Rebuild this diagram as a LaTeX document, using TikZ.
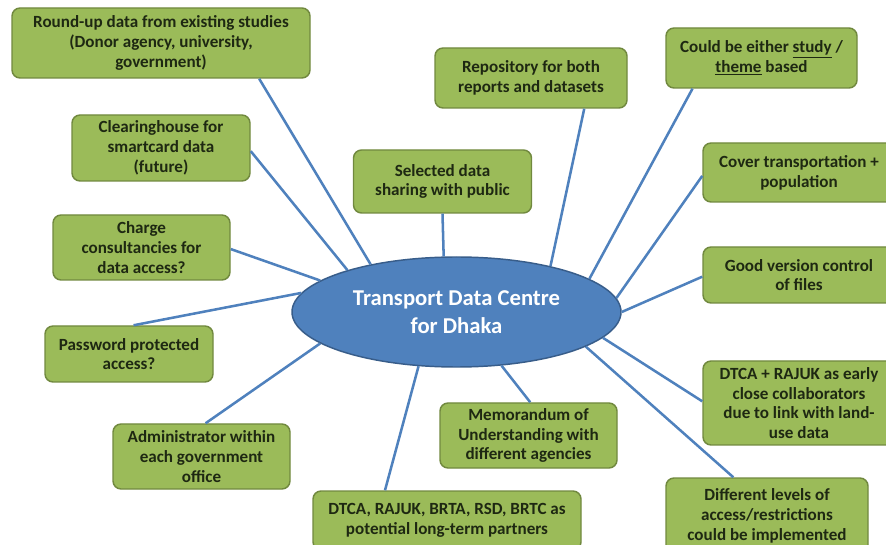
\documentclass[tikz,border=0pt]{standalone}
\usepackage{fontspec}
\setmainfont{Carlito}
\usetikzlibrary{shapes.geometric}
\definecolor{boxfill}{HTML}{9BBB59}
\definecolor{boxdraw}{HTML}{71893F}
\definecolor{elfill}{HTML}{4F81BD}
\definecolor{eldraw}{HTML}{385D8A}
\definecolor{linecol}{HTML}{4F81BD}
\definecolor{txt}{HTML}{1E2812}
\begin{document}
\begin{tikzpicture}[x=0.75pt,y=-0.75pt,
  box/.style={draw=boxdraw, line width=1.1pt, fill=boxfill, rounded corners=6pt,
    align=center, font=\fontsize{12.8}{14.8}\selectfont\bfseries, text=txt, inner sep=0pt},
  sz/.style 2 args={minimum width=#1*0.75pt, minimum height=#2*0.75pt},
  hub/.style={ellipse, draw=eldraw, line width=1.1pt, fill=elfill, text=white,
    align=center, font=\fontsize{17}{20.5}\selectfont\bfseries, inner sep=0pt},
  link/.style={draw=linecol, line width=1.9pt}]
\useasboundingbox (0,0) rectangle (886,545);
\clip (0,0) rectangle (886,545);

\node[hub, sz={329}{110}] (C) at (456.5,312) {Transport Data Centre\\for Dhaka};
\node[box, sz={298}{70}] (B1) at (161,43) {Round-up data from existing studies\\(Donor agency, university,\\government)};
\node[box, sz={178}{66}] (B2) at (161,148) {Clearinghouse for\\smartcard data\\(future)};
\node[box, sz={177}{65}] (B3) at (141.5,247.5) {Charge\\consultancies for\\data access?};
\node[box, sz={168}{56}] (B4) at (129,354) {Password protected\\access?};
\node[box, sz={177}{65}] (B5) at (201.5,456.5) {Administrator within\\each government\\office};
\node[box, sz={268}{59}] (B6) at (447,520.5) {DTCA, RAJUK, BRTA, RSD, BRTC as\\potential long-term partners};
\node[box, sz={177}{65}] (B7) at (528.5,435.5) {Memorandum of\\Understanding with\\different agencies};
\node[box, sz={202}{76}] (B8) at (767,516) {Different levels of\\access/restrictions\\could be implemented};
\node[box, sz={192}{84}] (B9) at (799,403) {DTCA + RAJUK as early\\close collaborators\\due to link with land-\\use data};
\node[box, sz={192}{56}] (B10) at (799,275) {Good version control\\of files};
\node[box, sz={192}{59}] (B11) at (799,172.5) {Cover transportation +\\population};
\node[box, sz={191}{60}] (B12) at (761.5,58) {Could be either \underline{study} /\\\underline{theme} based};
\node[box, sz={192}{60}] (B13) at (531,78) {Repository for both\\reports and datasets};
\node[box, sz={178}{63}] (B14) at (442.5,181.5) {Selected data\\sharing with public};

\draw[link] (C.151.6) -- (B1.-20.8);
\draw[link] (C.159.7) -- (B2.-2);
\draw[link] (C.167) -- (B3.-1);
\draw[link] (C.173.1) -- (B4.81.9);
\draw[link] (C.193.8) -- (B5.83.9);
\draw[link] (C.235) -- (B6.154.2);
\draw[link] (C.310.2) -- (B7.87.4);
\draw[link] (C.345.8) -- (B8.131);
\draw[link] (C.350.2) -- (B9.179.4);
\draw[link] (C.0.7) -- (B10.181.2);
\draw[link] (C.5.4) -- (B11.182.7);
\draw[link] (C.14.2) -- (B12.204.9);
\draw[link] (C.26.2) -- (B13.-30.5);
\draw[link] (C.103.6) -- (B14.-90);
\end{tikzpicture}
\end{document}
